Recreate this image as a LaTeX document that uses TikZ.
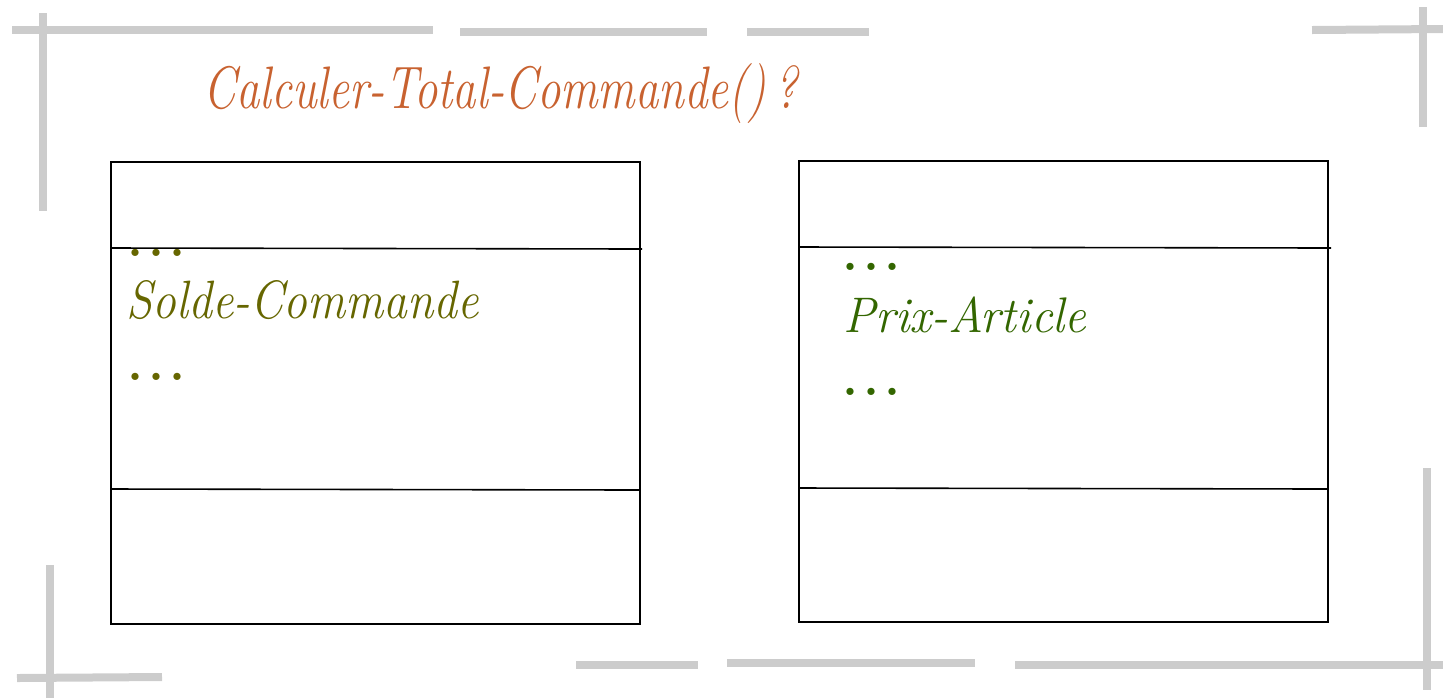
\documentclass[tikz,border=0pt]{standalone}
\usepackage{graphicx}
\definecolor{titleorange}{RGB}{200,98,48}
\definecolor{olivetext}{RGB}{102,102,0}
\definecolor{greentext}{RGB}{51,102,0}
\definecolor{bargray}{RGB}{204,204,204}
\newcommand{\threedots}{.\kern-0.6pt.\kern-0.6pt.}
\tikzset{
  bar/.style={draw=bargray,line width=4pt},
  classbox/.style={draw=black,line width=1pt},
  divider/.style={draw=black,line width=0.8pt},
  titletext/.style={anchor=base west,inner sep=0pt,text=titleorange,font=\fontsize{30}{32}\selectfont\itshape},
  attrtext/.style={anchor=base west,inner sep=0pt,font=\fontsize{27}{30}\selectfont\itshape},
  dotstext/.style={anchor=base west,inner sep=0pt,text height=5pt,text depth=0pt,font=\fontsize{44}{46}\selectfont}
}
\begin{document}
\begin{tikzpicture}[x=0.5pt,y=-0.5pt]
\useasboundingbox (0,0) rectangle (1443,698);
% decorative gray bars
\draw[bar] (12,30) -- (433,30);
\draw[bar] (460,32) -- (707,32);
\draw[bar] (747,32) -- (869,32);
\draw[bar] (43,13) -- (43,211);
\draw[bar] (1312,30) -- (1443,29);
\draw[bar] (1423,7) -- (1423,127);
\draw[bar] (50,565) -- (50,698);
\draw[bar] (17,678) -- (162,677);
\draw[bar] (576,665) -- (698,665);
\draw[bar] (727,663) -- (975,663);
\draw[bar] (1015,665) -- (1443,665);
\draw[bar] (1427,468) -- (1427,690);
% title
\node[titletext] (title) at (203,108) {\resizebox{297pt}{\height}{Calculer-Total-Commande()\,?}};
% left class box contents
\node[dotstext,text=olivetext] (ldots1) at (124,256) {\threedots};
\node[attrtext,text=olivetext] (solde) at (126,318) {\resizebox{176pt}{\height}{Solde-Commande}};
\node[dotstext,text=olivetext] (ldots2) at (124,380) {\threedots};
% left class box
\fill[white] (111,162) rectangle (640,248);
\draw[classbox] (111,162) rectangle (640,624);
\draw[divider] (111,248) -- (642,249);
\draw[divider] (111,489) -- (640,490);
% right class box contents
\node[dotstext,text=greentext] (rdots1) at (839,270) {\threedots};
\node[attrtext,text=greentext,font=\fontsize{25}{28}\selectfont\itshape] (prix) at (843,332) {\resizebox{121.5pt}{\height}{Prix-Article}};
\node[dotstext,text=greentext] (rdots2) at (839,395) {\threedots};
% right class box
\draw[classbox] (799,161) rectangle (1328,622);
\draw[divider] (799,247) -- (1331,248);
\draw[divider] (799,488) -- (1328,489);
\end{tikzpicture}
\end{document}
